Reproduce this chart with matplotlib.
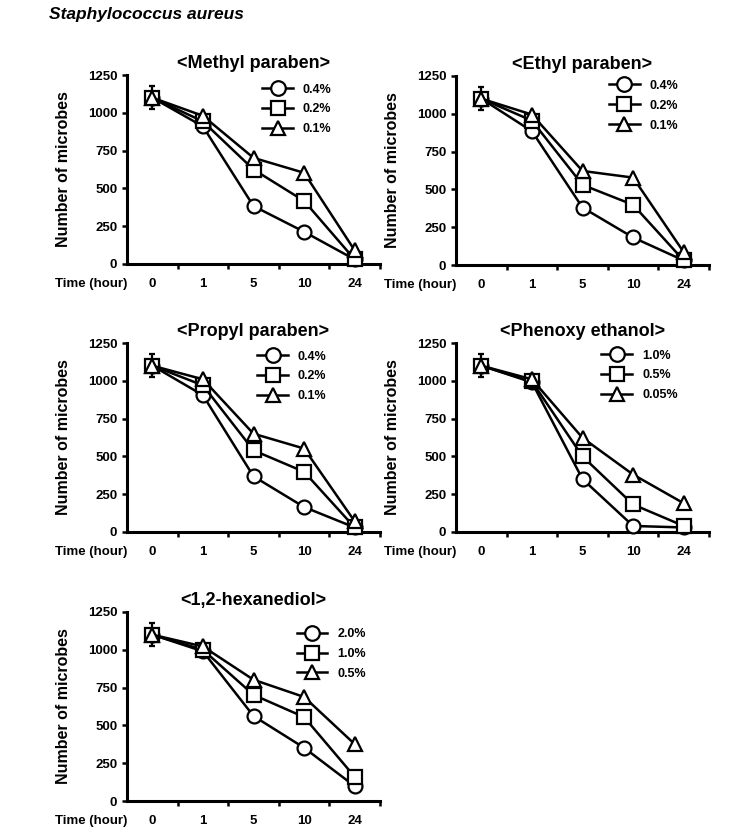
import matplotlib
matplotlib.use("Agg")
import matplotlib.pyplot as plt
from matplotlib.lines import Line2D

plt.rcParams['font.family'] = ['Liberation Sans', 'DejaVu Sans']
plt.rcParams['font.weight'] = 'bold'

# Data (number of microbes, S. aureus)
times = ["0", "1", "5", "10", "24"]

titles = ["<Methyl paraben>", "<Ethyl paraben>", "<Propyl paraben>",
          "<Phenoxy ethanol>", "<1,2-hexanediol>"]

conc_labels = [
    ["0.4%", "0.2%", "0.1%"],
    ["0.4%", "0.2%", "0.1%"],
    ["0.4%", "0.2%", "0.1%"],
    ["1.0%", "0.5%", "0.05%"],
    ["2.0%", "1.0%", "0.5%"],
]

methyl = [[1100, 910, 383, 213, 30],
          [1100, 943, 625, 417, 30],
          [1100, 980, 702, 603, 90]]
ethyl = [[1100, 885, 380, 182, 30],
         [1100, 955, 530, 398, 30],
         [1100, 995, 622, 578, 85]]
propyl = [[1100, 905, 368, 165, 30],
          [1100, 970, 540, 398, 30],
          [1100, 1010, 650, 552, 70]]
phenoxy = [[1100, 990, 350, 40, 30],
           [1100, 996, 500, 182, 40],
           [1100, 1010, 623, 380, 190]]
hexanediol = [[1100, 990, 562, 352, 98],
              [1100, 1000, 702, 555, 160],
              [1100, 1022, 802, 688, 376]]

all_data = [methyl, ethyl, propyl, phenoxy, hexanediol]
err_t0 = 75  # error bar at time 0

markers = ['o', 's', '^']

# layout: axes rectangles in figure pixels (left, top) and legend anchors
W, H = 733, 839
ax_w, ax_h = 253, 189
ax_pos = [(127, 75), (456, 76), (127, 343), (456, 343), (127, 612)]
legend_anchor = [(0.535, 0.955), (0.605, 0.98), (0.515, 0.96), (0.575, 0.965), (0.67, 0.915)]

fig = plt.figure(figsize=(W / 100, H / 100), dpi=100)
fig.text(49 / W, 1 - 15 / H, "Staphylococcus aureus", fontsize=12.5,
         fontweight='bold', fontstyle='italic', ha='left', va='center')

for i in range(5):
    l, t = ax_pos[i]
    ax = fig.add_axes([l / W, 1 - (t + ax_h) / H, ax_w / W, ax_h / H])
    x = list(range(len(times)))
    handles = []
    for j in range(3):
        y = all_data[i][j]
        ax.errorbar([0], [y[0]], yerr=[err_t0], fmt='none', ecolor='black',
                    elinewidth=1.5, capsize=2.5, capthick=1.5, zorder=2)
        ax.plot(x, y, color='black', lw=1.8, marker=markers[j], ms=10,
                mfc='white', mec='black', mew=1.6, clip_on=False, zorder=3 + j)
        handles.append(Line2D([], [], color='black', lw=1.8, marker=markers[j],
                              ms=10.5, mfc='white', mec='black', mew=1.6))
    ax.set_xlim(-0.5, 4.5)
    ax.set_ylim(0, 1250)
    ax.set_yticks([0, 250, 500, 750, 1000, 1250])
    ax.set_xticks(x)
    ax.set_xticklabels(times)
    ax.set_xticks([0.5, 1.5, 2.5, 3.5, 4.5], minor=True)
    ax.tick_params(axis='x', which='major', length=0, pad=10, labelsize=9.5)
    ax.tick_params(axis='x', which='minor', length=3.5, width=1.8, direction='out')
    ax.tick_params(axis='y', length=3.5, width=1.8, direction='out', labelsize=9.5)
    for lab in ax.get_xticklabels() + ax.get_yticklabels():
        lab.set_fontweight('bold')
    for s in ['top', 'right']:
        ax.spines[s].set_visible(False)
    for s in ['left', 'bottom']:
        ax.spines[s].set_linewidth(2.2)
    ax.set_ylabel("Number of microbes", fontsize=11.5, fontweight='bold')
    ax.yaxis.set_label_coords(-0.222, 0.5)
    ax.set_title(titles[i], fontsize=13, fontweight='bold', pad=5)
    ax.text(0.0, -0.105, "Time (hour)", transform=ax.transAxes, ha='right',
            va='center', fontsize=9.5, fontweight='bold')
    leg = ax.legend(handles, conc_labels[i], loc='upper left',
                    bbox_to_anchor=legend_anchor[i], frameon=False,
                    prop={'size': 9, 'weight': 'bold'}, handlelength=2.45,
                    handletextpad=0.8, labelspacing=0.63, borderpad=0,
                    borderaxespad=0)

fig.savefig("out.png", dpi=100)
